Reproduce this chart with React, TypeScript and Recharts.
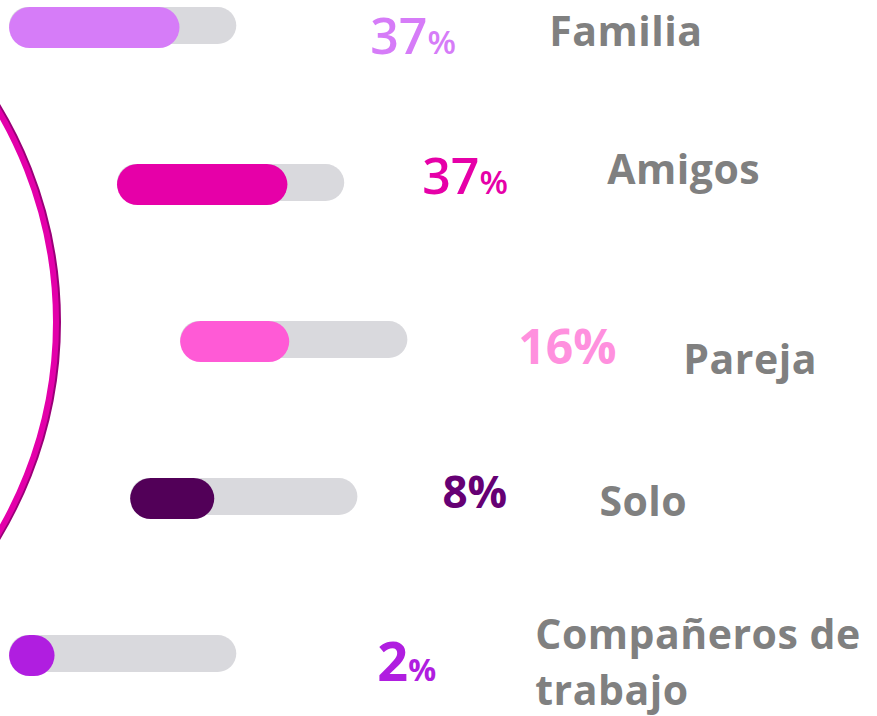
import React from 'react';
import { BarChart, Bar, XAxis, YAxis, LabelList, Customized } from 'recharts';

// values
const categories = ['Familia', 'Amigos', 'Pareja', 'Solo', 'Compañeros de trabajo'];
const shares = [37, 37, 16, 8, 2];
// how far each pill is filled, as drawn (0-100 of the track)
const barLevels = [75, 75, 48, 37, 20];
const barColors = ['#d67cf8', '#e600a8', '#ff5ad6', '#520058', '#b01ee0'];
const shareColors = ['#d67cf8', '#e600a8', '#ff90de', '#660074', '#b01ee0'];

// layout: rows follow the arc on the left
const TRACK = 100;
const rowIndent = [4, 51.5, 79.3, 57.3, 4];
const pctDx = [134, 78, 111, 85, 141];
const pctDy = [28, 11, 24, 11, 27];
const labelDx = [313, 263, 276, 242, 299];
const labelDy = [20, 1, 34, 19, -5];
const LINE_GAP = 56;
const digitSize = [50, 50, 48, 44, 54];
const signSize = [33, 33, 48, 44, 31];
const pctWeight = [600, 600, 700, 700, 700];

const rows = categories.map((name, i) => ({
    name,
    indent: rowIndent[i],
    track: TRACK,
    level: barLevels[i],
    share: shares[i],
    color: barColors[i],
}));

const FONT = '"Open Sans", "DejaVu Sans", sans-serif';

const wrap = (s: string, max = 14) => {
    const lines: string[] = [];
    let cur = '';
    s.split(' ').forEach((w) => {
        const next = cur ? cur + ' ' + w : w;
        if (next.length > max && cur) {
            lines.push(cur);
            cur = w;
        } else {
            cur = next;
        }
    });
    if (cur) lines.push(cur);
    return lines;
};

const PillShape = (props: any) => {
    const { x, y, width, height, payload } = props;
    const fillW = (width * payload.level) / TRACK;
    const fh = height + 4;
    return (
        <g>
            <rect x={x} y={y} width={width} height={height} rx={height / 2} fill="#d9d9dd" />
            <rect x={x} y={y} width={fillW} height={fh} rx={fh / 2} fill={payload.color} />
        </g>
    );
};

const RowText = (props: any) => {
    const { x, y, width, height, index } = props;
    const end = x + width;
    const cy = y + height / 2;
    const lines = wrap(categories[index]);
    return (
        <g>
            <text
                x={end + pctDx[index]}
                y={cy + pctDy[index]}
                fill={shareColors[index]}
                fontFamily={FONT}
                fontWeight={pctWeight[index]}
            >
                <tspan fontSize={digitSize[index]}>{shares[index]}</tspan>
                <tspan fontSize={signSize[index]}>%</tspan>
            </text>
            <text
                x={end + labelDx[index]}
                y={cy + labelDy[index]}
                fill="#808080"
                fontFamily={FONT}
                fontWeight={700}
                fontSize={41}
                letterSpacing={0.5}
            >
                {lines.map((l, k) => (
                    <tspan key={k} x={end + labelDx[index]} dy={k === 0 ? 0 : LINE_GAP}>
                        {l}
                    </tspan>
                ))}
            </text>
        </g>
    );
};

// big magenta ring on the left edge
const Ring = () => (
    <g>
        <circle cx={-358} cy={375} r={416} fill="none" stroke="#9a0078" strokeWidth={6} />
        <circle cx={-360} cy={375} r={416} fill="none" stroke="#e300aa" strokeWidth={6} />
    </g>
);

export default function App() {
    return (
        <div
            style={{
                position: 'absolute',
                left: 0,
                top: 0,
                width: 877,
                height: 716,
                overflow: 'hidden',
                background: '#ffffff',
            }}
        >
            <div style={{ position: 'absolute', left: 0, top: -53.5 }}>
                <BarChart
                    width={877}
                    height={785}
                    layout="vertical"
                    data={rows}
                    margin={{ top: 0, right: 0, bottom: 0, left: 0 }}
                >
                    <XAxis type="number" hide domain={[0, 386]} allowDataOverflow />
                    <YAxis type="category" dataKey="name" hide />
                    <Customized component={<Ring />} />
                    <Bar dataKey="indent" stackId="row" fill="transparent" barSize={37} isAnimationActive={false} />
                    <Bar dataKey="track" stackId="row" barSize={37} shape={PillShape} isAnimationActive={false}>
                        <LabelList dataKey="track" content={RowText} />
                    </Bar>
                </BarChart>
            </div>
        </div>
    );
}
